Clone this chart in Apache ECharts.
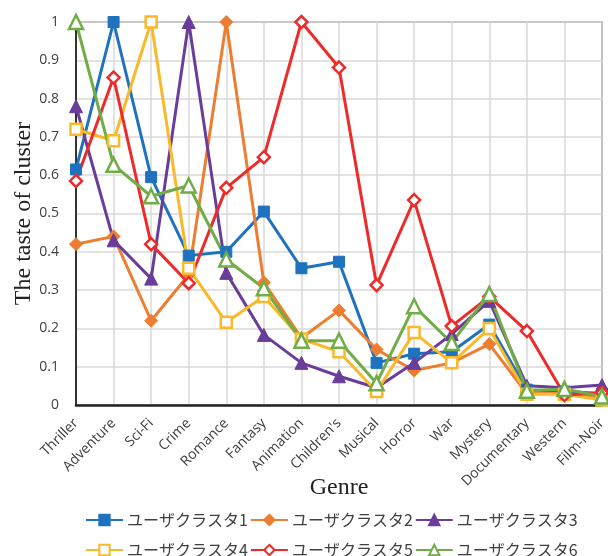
<!DOCTYPE html>
<html>
<head>
<meta charset="utf-8">
<script src="https://cdn.jsdelivr.net/npm/echarts@6/dist/echarts.min.js"></script>
<style>html,body{margin:0;padding:0;background:#fff;}#c{width:608px;height:556px;}</style>
</head>
<body>
<div id="c"></div>
<script>
const genres = ['Thriller','Adventure','Sci-Fi','Crime','Romance','Fantasy','Animation',"Children's",'Musical','Horror','War','Mystery','Documentary','Western','Film-Noir'];
const seriesNames = ['ユーザクラスタ1','ユーザクラスタ2','ユーザクラスタ3','ユーザクラスタ4','ユーザクラスタ5','ユーザクラスタ6'];
const cluster1 = [0.615, 1.0, 0.595, 0.39, 0.40, 0.505, 0.357, 0.374, 0.11, 0.134, 0.139, 0.21, 0.04, 0.035, 0.03];
const cluster2 = [0.42, 0.44, 0.22, 0.34, 1.0, 0.32, 0.175, 0.247, 0.145, 0.09, 0.11, 0.159, 0.03, 0.03, 0.02];
const cluster3 = [0.78, 0.43, 0.33, 1.0, 0.345, 0.183, 0.11, 0.075, 0.045, 0.11, 0.185, 0.272, 0.05, 0.045, 0.052];
const cluster4 = [0.72, 0.69, 1.0, 0.357, 0.216, 0.283, 0.172, 0.139, 0.035, 0.189, 0.11, 0.2, 0.028, 0.028, 0.013];
const cluster5 = [0.585, 0.855, 0.42, 0.318, 0.567, 0.647, 1.0, 0.881, 0.313, 0.535, 0.206, 0.283, 0.193, 0.026, 0.032];
const cluster6 = [1.0, 0.627, 0.545, 0.573, 0.38, 0.305, 0.168, 0.168, 0.057, 0.258, 0.162, 0.29, 0.037, 0.042, 0.022];
const yTicks = [0, 0.1, 0.2, 0.3, 0.4, 0.5, 0.6, 0.7, 0.8, 0.9, 1];

const colors = ['#1f72be','#ed7d31','#6a3d9a','#fbb829','#ee2b2b','#70ad47'];
const symbols = ['rect','diamond','triangle','rect','diamond','triangle'];
const sizes = [11, 13, 13, 11, 12, 14];
const hollow = [false,false,false,true,true,true];
const datas = [cluster1,cluster2,cluster3,cluster4,cluster5,cluster6];

const series = datas.map((d,i)=>({
  name: seriesNames[i],
  type: 'line',
  data: d,
  symbol: symbols[i],
  symbolSize: sizes[i],
  showAllSymbol: true,
  lineStyle: {color: colors[i], width: 3},
  itemStyle: hollow[i] ? {color: '#fff', borderColor: colors[i], borderWidth: 2.5} : {color: colors[i], borderColor: colors[i], borderWidth: 1},
  emphasis: {disabled: true},
  animation: false
}));

const legendCommon = {
  left: 80,
  itemWidth: 37,
  itemHeight: 13,
  itemGap: 2,
  textStyle: {fontFamily: 'Noto Sans CJK JP', fontSize: 16, color: '#404040', padding: [0,0,0,-1]},
  selectedMode: false
};

const chart = echarts.init(document.getElementById('c'), null, {renderer: 'canvas'});
chart.setOption({
  animation: false,
  backgroundColor: '#fff',
  grid: {left: 76, right: 6, top: 22, bottom: 151, show: true, borderColor: '#333', borderWidth: 1.2, containLabel: false, outerBoundsMode: 'none'},
  legend: [
    Object.assign({}, legendCommon, {top: 507, data: seriesNames.slice(0,3)}),
    Object.assign({}, legendCommon, {top: 537, data: seriesNames.slice(3,6)})
  ],
  xAxis: {
    type: 'category',
    data: genres,
    boundaryGap: false,
    axisLine: {lineStyle: {color: '#222', width: 2.5}},
    axisTick: {show: false},
    axisLabel: {rotate: 45, fontFamily: 'Open Sans', fontSize: 14, color: '#404040', margin: 16, interval: 0},
    splitLine: {show: true, lineStyle: {color: '#d9d9d9', width: 1.5}},
    name: 'Genre',
    nameLocation: 'middle',
    nameGap: 71,
    nameMoveOverlap: false,
    nameTextStyle: {fontFamily: 'Liberation Serif', fontSize: 24, color: '#222'}
  },
  yAxis: {
    type: 'value',
    min: 0, max: 1, interval: 0.1,
    axisLine: {show: true, lineStyle: {color: '#333', width: 2}},
    axisTick: {show: false},
    axisLabel: {fontFamily: 'Open Sans', fontSize: 14, color: '#404040', margin: 17,
      formatter: v => { const t = yTicks.find(x => Math.abs(x - v) < 1e-6); return t === undefined ? '' : String(t); }},
    splitLine: {show: true, lineStyle: {color: '#d9d9d9', width: 1.5}},
    name: 'The taste of cluster',
    nameLocation: 'middle',
    nameGap: 40,
    nameMoveOverlap: false,
    nameTextStyle: {fontFamily: 'Liberation Serif', fontSize: 24, color: '#222'}
  },
  series: series
});
</script>
</body>
</html>
